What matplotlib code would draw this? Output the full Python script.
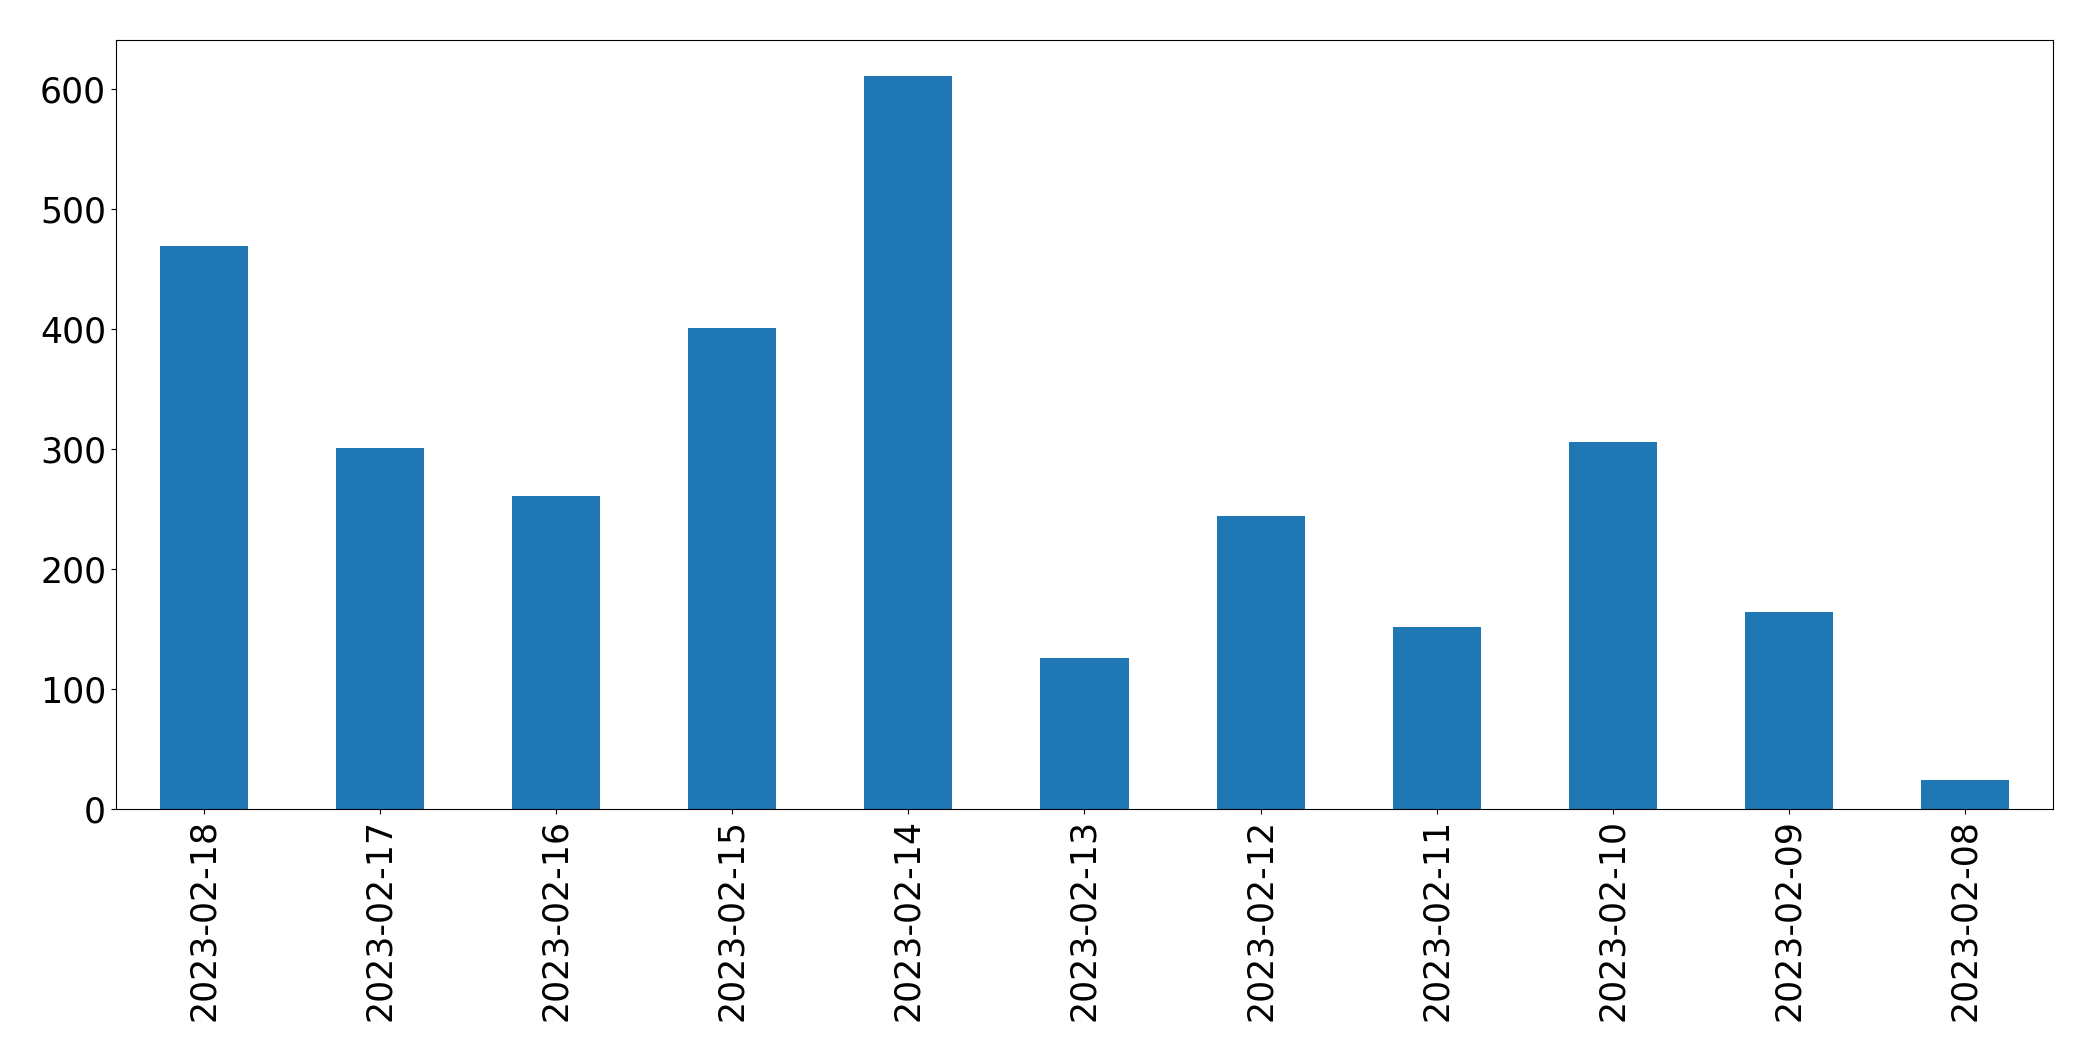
import matplotlib
matplotlib.use("Agg")
import matplotlib.pyplot as plt
import numpy as np

# daily counts, newest first
dates = ["2023-02-18", "2023-02-17", "2023-02-16", "2023-02-15", "2023-02-14",
         "2023-02-13", "2023-02-12", "2023-02-11", "2023-02-10", "2023-02-09",
         "2023-02-08"]
counts = [469, 301, 261, 401, 611, 126, 244, 152, 306, 164, 24]
yticks = [0, 100, 200, 300, 400, 500, 600]

fig = plt.figure(figsize=(20.93, 10.61), dpi=100)
ax = fig.add_axes([0.0554, 0.2375, 0.9255, 0.7248])

x = np.arange(len(dates))
ax.bar(x, counts, width=0.5, color="#1f77b4")
ax.set_xlim(-0.5, len(dates) - 0.5)
ax.set_ylim(0, 641)
ax.set_xticks(x)
ax.set_xticklabels(dates, rotation=90, fontsize=25)
ax.set_yticks(yticks)
ax.tick_params(axis="y", labelsize=25)

fig.savefig("out.png", dpi=100)
